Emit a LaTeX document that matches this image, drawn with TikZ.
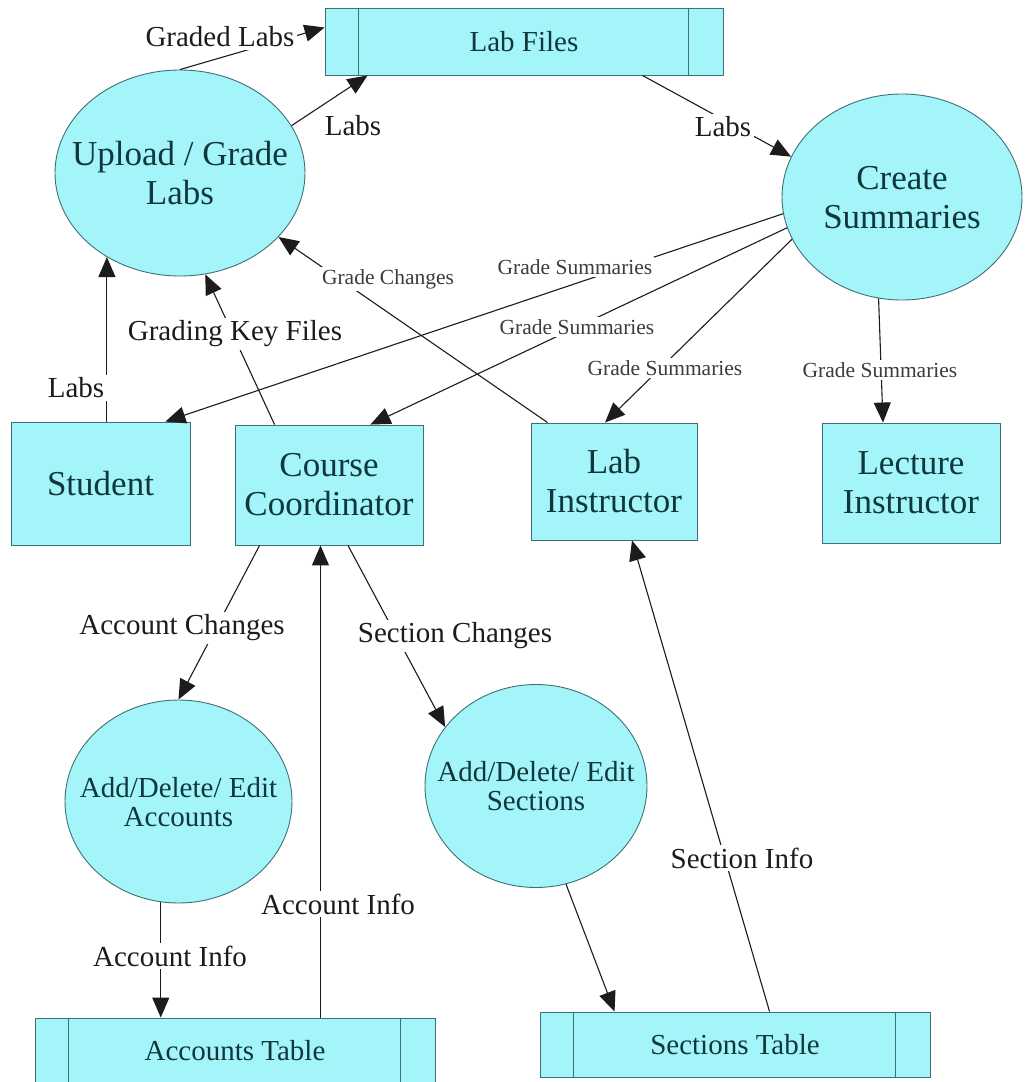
\documentclass[tikz,border=0pt]{standalone}
\usepackage{fontspec}
\setmainfont{Liberation Serif}
\usetikzlibrary{arrows.meta,shapes.geometric,calc}

\definecolor{shapefill}{RGB}{163,245,249}
\definecolor{shapeedge}{RGB}{62,112,118}
\definecolor{nodetext}{RGB}{16,56,60}
\definecolor{flowcol}{RGB}{28,28,28}
\definecolor{smallcol}{RGB}{60,60,60}

% centred lines of text that do not widen the ellipse around them,
% set a little below the centre of the ellipse
\newcommand{\proctext}[1]{\raisebox{-4.5pt}[\height][\depth]{\makebox[0pt]{\begin{tabular}{@{}c@{}}#1\end{tabular}}}}

\tikzset{
  process/.style={ellipse, draw=shapeedge, fill=shapefill, line width=0.9pt,
    inner sep=0pt, text=nodetext},
  bigtext/.style={font=\fontsize{35}{39}\selectfont},
  midtext/.style={font=\fontsize{29}{29}\selectfont},
  entity/.style={rectangle, draw=shapeedge, fill=shapefill, line width=0.9pt,
    inner sep=0pt, text=nodetext, align=center, font=\fontsize{35}{39}\selectfont},
  store/.style={rectangle, draw=shapeedge, fill=shapefill, line width=0.9pt,
    inner sep=0pt, text=nodetext, font=\fontsize{29}{30}\selectfont,
    path picture={
      \draw[shapeedge, line width=0.9pt]
        ([xshift=33pt]path picture bounding box.south west) --
        ([xshift=33pt]path picture bounding box.north west);
      \draw[shapeedge, line width=0.9pt]
        ([xshift=-35pt]path picture bounding box.south east) --
        ([xshift=-35pt]path picture bounding box.north east);
    }},
  flow/.style={draw=flowcol, line width=1.1pt, -{Triangle[length=20pt,width=17pt]}},
  flowlabel/.style={fill=white, inner sep=3pt, text=flowcol,
    font=\fontsize{29}{30}\selectfont},
  smallflowlabel/.style={fill=white, inner sep=2pt, text=smallcol,
    font=\fontsize{21.5}{23}\selectfont},
}

\begin{document}
\begin{tikzpicture}[x=1pt, y=-1pt]
  \fill[white] (0,0) rectangle (1036,1082);
  \useasboundingbox (0,0) rectangle (1036,1082);

  % processes
  \node[process, bigtext, minimum width=250pt, minimum height=206pt] (U) at (180,173) {\proctext{Upload / Grade\\Labs}};
  \node[process, bigtext, minimum width=240pt, minimum height=206pt] (C) at (902,197) {\proctext{Create\\Summaries}};
  \node[process, midtext, minimum width=227pt, minimum height=203pt] (A) at (178.5,801.5) {\proctext{Add/Delete/ Edit\\Accounts}};
  \node[process, midtext, minimum width=222pt, minimum height=203pt] (SE) at (536,786) {\proctext{Add/Delete/ Edit\\Sections}};

  % external entities
  \node[entity, minimum width=179pt, minimum height=123pt] (S) at (100.5,483.5) {Student};
  \node[entity, minimum width=188pt, minimum height=120pt] (CC) at (329,485) {Course\\Coordinator};
  \node[entity, minimum width=166pt, minimum height=117pt] (LI) at (614,481.5) {Lab\\Instructor};
  \node[entity, minimum width=178pt, minimum height=120pt] (LecI) at (911,483) {Lecture\\Instructor};

  % data stores
  \node[store, minimum width=398pt, minimum height=67pt] (LF) at (524,41.5) {Lab Files};
  \node[store, minimum width=400pt, minimum height=66pt] (AT) at (235,1051) {Accounts Table};
  \node[store, minimum width=390pt, minimum height=65pt] (ST) at (735,1044.5) {Sections Table};

  % data flows
  \draw[flow] (U.north) -- ([yshift=14pt]LF.west);
  \draw[flow] (U.23) -- ([xshift=43pt]LF.south west);
  \draw[flow] ([xshift=-81pt]LF.south east) -- (C.160);
  \draw[flow] ([xshift=17pt]LI.north west) -- (U.-33);
  \draw[flow] ([xshift=40pt]CC.north west) -- (U.-76);
  \draw[flow] (S.north -| U.-131) -- (U.-131);
  \draw[flow] (C.188) -- ([xshift=-25pt]S.north east);
  \draw[flow] (C.195) -- ([xshift=-53pt]CC.north east);
  \draw[flow] (C.201) -- ([xshift=-9pt]LI.north);
  \draw[flow] (C.257) -- ([xshift=-28pt]LecI.north);
  \draw[flow] ([xshift=25pt]CC.south west) -- (A.north);
  \draw[flow] ([xshift=85.5pt]AT.north) -- ([xshift=-8.5pt]CC.south);
  \draw[flow] ([xshift=19pt]CC.south) -- (SE.147);
  \draw[flow] (A.-100) -- (AT.north -| A.-100);
  \draw[flow] (SE.-73) -- ([xshift=75pt]ST.north west);
  \draw[flow] ([xshift=230pt]ST.north west) -- ([xshift=18pt]LI.south);

  % flow labels
  \node[flowlabel] (lgl) at (220,37) {Graded Labs};
  \node[flowlabel] (llabsa) at (353,126) {Labs};
  \node[flowlabel] (llabsb) at (723,127) {Labs};
  \node[smallflowlabel] (lgc) at (388,279) {Grade Changes};
  \node[smallflowlabel] (lgsa) at (575,267) {Grade Summaries};
  \node[smallflowlabel] (lgsb) at (577,327) {Grade Summaries};
  \node[smallflowlabel] (lgsc) at (665,368) {Grade Summaries};
  \node[smallflowlabel] (lgsd) at (880,370) {Grade Summaries};
  \node[flowlabel] (lgk) at (235,334) {Grading Key Files};
  \node[flowlabel] (llabsc) at (76,388) {Labs};
  \node[flowlabel] (lac) at (182,628) {Account Changes};
  \node[flowlabel] (lsc) at (455,636) {Section Changes};
  \node[flowlabel] (laia) at (338,904) {Account Info};
  \node[flowlabel] (laib) at (170,956) {Account Info};
  \node[flowlabel] (lsi) at (742,858) {Section Info};
\end{tikzpicture}
\end{document}
